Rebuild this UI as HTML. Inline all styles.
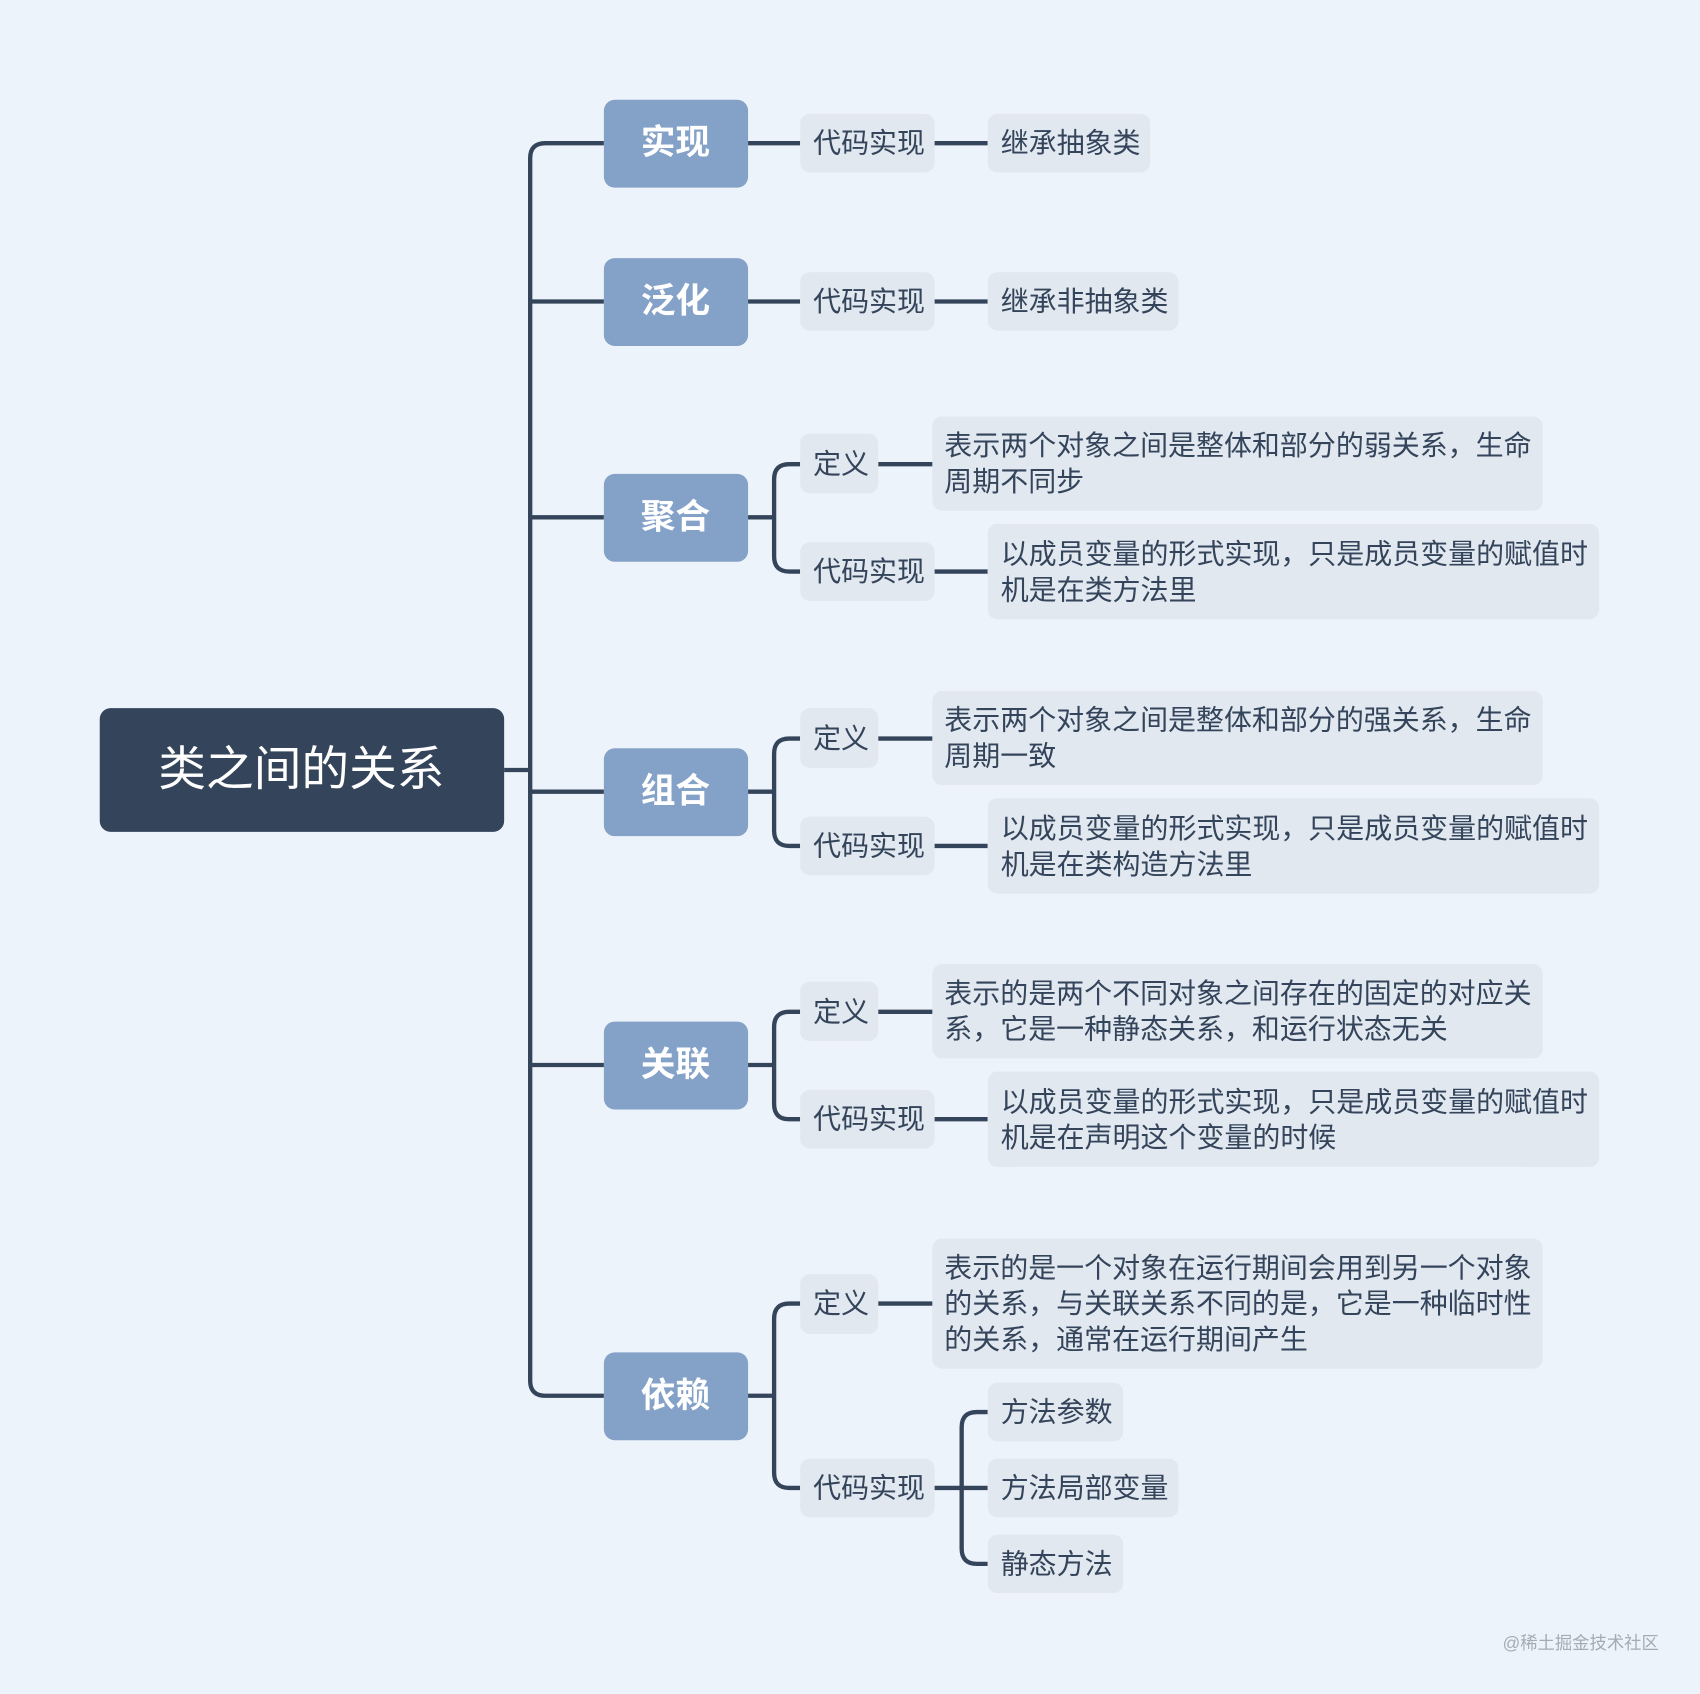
<!DOCTYPE html>
<html><head><meta charset="utf-8"><style>
html,body{margin:0;padding:0;background:#edf3fa;}
svg{display:block;}
text{font-family:"Liberation Sans","Noto Sans CJK SC",sans-serif;}
.l1{fill:#fff;font-size:32px;font-weight:600;text-anchor:middle;dominant-baseline:central;}
.t{fill:#34445a;font-size:25.8px;dominant-baseline:central;}
.n2{fill:#e1e8f0;}
.ln{stroke:#34445a;stroke-width:4;fill:none;}
</style></head><body>
<svg width="1700" height="1694" viewBox="0 0 1568 1562" preserveAspectRatio="none" xmlns="http://www.w3.org/2000/svg">
<rect width="1568" height="1562" fill="#edf3fa"/>
<path class="ln" d="M465 710 H489"/>
<path class="ln" d="M557 132 H503 Q489 132 489 146 V1273 Q489 1287 503 1287 H557"/>
<path class="ln" d="M489 278 H557 M489 477 H557 M489 730 H557 M489 982 H557"/>
<rect x="92" y="653" width="373" height="114" rx="10" fill="#34445a"/>
<text x="278" y="710" fill="#fff" font-size="44" text-anchor="middle" dominant-baseline="central">类之间的关系</text>
<g fill="#84a1c7">
<rect x="557" y="92" width="133" height="81" rx="10"/>
<rect x="557" y="238" width="133" height="81" rx="10"/>
<rect x="557" y="437" width="133" height="81" rx="10"/>
<rect x="557" y="690" width="133" height="81" rx="10"/>
<rect x="557" y="942" width="133" height="81" rx="10"/>
<rect x="557" y="1247" width="133" height="81" rx="10"/>
</g>
<text class="l1" x="623" y="132">实现</text>
<text class="l1" x="623" y="278">泛化</text>
<text class="l1" x="623" y="477">聚合</text>
<text class="l1" x="623" y="730">组合</text>
<text class="l1" x="623" y="982">关联</text>
<text class="l1" x="623" y="1287">依赖</text>
<path class="ln" d="M690 132 H738 M862 132 H911 M690 278 H738 M862 278 H911"/>
<rect class="n2" x="738" y="105" width="124" height="54" rx="9"/>
<text class="t" x="750" y="132">代码实现</text>
<rect class="n2" x="911" y="105" width="150" height="54" rx="9"/>
<text class="t" x="923" y="132">继承抽象类</text>
<rect class="n2" x="738" y="251" width="124" height="54" rx="9"/>
<text class="t" x="750" y="278">代码实现</text>
<rect class="n2" x="911" y="251" width="176" height="54" rx="9"/>
<text class="t" x="923" y="278">继承非抽象类</text>
<g>
<path class="ln" d="M690 477 H714 M738 428 H728 Q714 428 714 442 V513 Q714 527 728 527 H738 M810 428 H860 M862 527 H911"/>
<rect class="n2" x="738" y="400" width="72" height="55" rx="9"/><text class="t" x="750" y="428">定义</text>
<rect class="n2" x="860" y="384" width="563" height="87" rx="9"/>
<text class="t" x="871" y="411">表示两个对象之间是整体和部分的弱关系，生命</text>
<text class="t" x="871" y="444">周期不同步</text>
<rect class="n2" x="738" y="500" width="124" height="54" rx="9"/><text class="t" x="750" y="527">代码实现</text>
<rect class="n2" x="911" y="483" width="564" height="88" rx="9"/>
<text class="t" x="923" y="511">以成员变量的形式实现，只是成员变量的赋值时</text>
<text class="t" x="923" y="544">机是在类方法里</text>
</g>
<g transform="translate(0,253)">
<path class="ln" d="M690 477 H714 M738 428 H728 Q714 428 714 442 V513 Q714 527 728 527 H738 M810 428 H860 M862 527 H911"/>
<rect class="n2" x="738" y="400" width="72" height="55" rx="9"/><text class="t" x="750" y="428">定义</text>
<rect class="n2" x="860" y="384" width="563" height="87" rx="9"/>
<text class="t" x="871" y="411">表示两个对象之间是整体和部分的强关系，生命</text>
<text class="t" x="871" y="444">周期一致</text>
<rect class="n2" x="738" y="500" width="124" height="54" rx="9"/><text class="t" x="750" y="527">代码实现</text>
<rect class="n2" x="911" y="483" width="564" height="88" rx="9"/>
<text class="t" x="923" y="511">以成员变量的形式实现，只是成员变量的赋值时</text>
<text class="t" x="923" y="544">机是在类构造方法里</text>
</g>
<g transform="translate(0,505)">
<path class="ln" d="M690 477 H714 M738 428 H728 Q714 428 714 442 V513 Q714 527 728 527 H738 M810 428 H860 M862 527 H911"/>
<rect class="n2" x="738" y="400" width="72" height="55" rx="9"/><text class="t" x="750" y="428">定义</text>
<rect class="n2" x="860" y="384" width="563" height="87" rx="9"/>
<text class="t" x="871" y="411">表示的是两个不同对象之间存在的固定的对应关</text>
<text class="t" x="871" y="444">系，它是一种静态关系，和运行状态无关</text>
<rect class="n2" x="738" y="500" width="124" height="54" rx="9"/><text class="t" x="750" y="527">代码实现</text>
<rect class="n2" x="911" y="483" width="564" height="88" rx="9"/>
<text class="t" x="923" y="511">以成员变量的形式实现，只是成员变量的赋值时</text>
<text class="t" x="923" y="544">机是在声明这个变量的时候</text>
</g>
<path class="ln" d="M690 1287 H714 M738 1202 H728 Q714 1202 714 1216 V1358 Q714 1372 728 1372 H738 M810 1202 H860 M862 1372 H911 M911 1302 H901 Q887 1302 887 1316 V1428 Q887 1442 901 1442 H911"/>
<rect class="n2" x="738" y="1175" width="72" height="55" rx="9"/><text class="t" x="750" y="1202">定义</text>
<rect class="n2" x="860" y="1142" width="563" height="120" rx="9"/>
<text class="t" x="871" y="1169">表示的是一个对象在运行期间会用到另一个对象</text>
<text class="t" x="871" y="1202">的关系，与关联关系不同的是，它是一种临时性</text>
<text class="t" x="871" y="1235">的关系，通常在运行期间产生</text>
<rect class="n2" x="738" y="1345" width="124" height="54" rx="9"/><text class="t" x="750" y="1372">代码实现</text>
<rect class="n2" x="911" y="1275" width="125" height="54" rx="9"/><text class="t" x="923" y="1302">方法参数</text>
<rect class="n2" x="911" y="1345" width="176" height="54" rx="9"/><text class="t" x="923" y="1372">方法局部变量</text>
<rect class="n2" x="911" y="1415" width="125" height="54" rx="9"/><text class="t" x="923" y="1442">静态方法</text>
<text x="1530" y="1515" fill="#a4abb4" font-size="16" text-anchor="end" dominant-baseline="central">@稀土掘金技术社区</text>
</svg>
</body></html>
